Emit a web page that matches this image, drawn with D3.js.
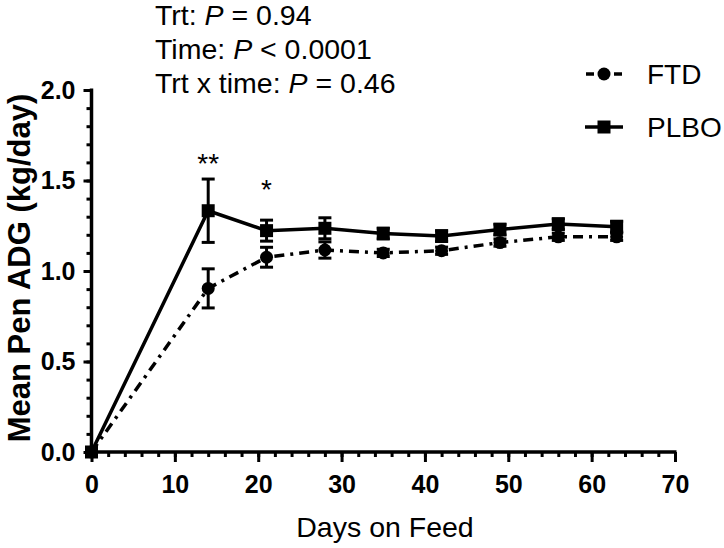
<!DOCTYPE html>
<html>
<head>
<meta charset="utf-8">
<script src="https://cdn.jsdelivr.net/npm/d3@7"></script>
<style>
  html, body { margin: 0; padding: 0; background: #fff; }
  svg { display: block; font-family: "Liberation Sans", Arial, sans-serif; }
</style>
</head>
<body>
<svg id="chart" width="724" height="548"></svg>
<script>
// ---- data ----
const days = [0, 14, 21, 28, 35, 42, 49, 56, 63];
const ftdMean = [0, 0.904, 1.076, 1.116, 1.100, 1.112, 1.157, 1.189, 1.189];
const ftdSE   = [0, 0.108, 0.055, 0.045, 0.02, 0.02, 0.02, 0.02, 0.02];
const plboMean = [0, 1.333, 1.223, 1.236, 1.207, 1.193, 1.229, 1.259, 1.245];
const plboSE   = [0, 0.175, 0.058, 0.058, 0.03, 0.03, 0.03, 0.03, 0.03];
const xTicks = [0, 10, 20, 30, 40, 50, 60, 70];
const yTicks = [0, 0.5, 1.0, 1.5, 2.0];
const stats = [
  ["Trt: ", "P", " = 0.94"],
  ["Time: ", "P", " < 0.0001"],
  ["Trt x time: ", "P", " = 0.46"]
];
const sigMarks = [{day: 14, label: "**", y: 1.54}, {day: 21, label: "*", y: 1.40}];
const seriesNames = ["FTD", "PLBO"];

// ---- scales ----
const svg = d3.select("#chart");
const x = d3.scaleLinear().domain([0, 70]).range([91.5, 675]);
const y = d3.scaleLinear().domain([0, 2]).range([452, 90]);

// ---- axes ----
const xAxis = svg.append("g").attr("transform", `translate(0,${y(0)})`);
xAxis.call(d3.axisBottom(x).tickValues(d3.range(0, 71, 2)).tickSize(5).tickFormat(""));
xAxis.call(g => g.selectAll(".tick line").attr("stroke-width", 3));
const xMajor = svg.append("g").attr("transform", `translate(0,${y(0)})`)
  .call(d3.axisBottom(x).tickValues(xTicks).tickSize(10).tickPadding(13).tickFormat(d3.format("d")));
xMajor.select(".domain").remove();
xMajor.selectAll(".tick line").attr("stroke-width", 3);
xMajor.selectAll(".tick text").attr("font-size", 25).attr("font-weight", "bold")
  .attr("font-family", "'Liberation Sans', Arial, sans-serif").attr("fill", "#000");
xAxis.select(".domain").attr("stroke-width", 3.5).attr("d", `M${x(0)},0H${x(70)+1.5}`);

const yAxis = svg.append("g").attr("transform", `translate(${x(0)},0)`);
yAxis.call(d3.axisLeft(y).tickValues(d3.range(0, 21).map(d => d / 10)).tickSize(5).tickFormat(""));
yAxis.selectAll(".tick line").attr("stroke-width", 3);
yAxis.select(".domain").attr("stroke-width", 3.5).attr("d", `M0,${y(2)-1.5}V${y(0)}`);
const yMajor = svg.append("g").attr("transform", `translate(${x(0)},0)`)
  .call(d3.axisLeft(y).tickValues(yTicks).tickSize(8).tickPadding(8).tickFormat(d3.format(".1f")));
yMajor.select(".domain").remove();
yMajor.selectAll(".tick line").attr("stroke-width", 3);
yMajor.selectAll(".tick text").attr("font-size", 25).attr("font-weight", "bold")
  .attr("font-family", "'Liberation Sans', Arial, sans-serif").attr("fill", "#000");

// ---- axis titles ----
svg.append("text").attr("x", 385).attr("y", 537).attr("text-anchor", "middle")
  .attr("font-size", 28.5).text("Days on Feed");
svg.append("text").attr("transform", "translate(30,268) rotate(-90)").attr("text-anchor", "middle")
  .attr("font-size", 31).attr("font-weight", "bold").text("Mean Pen ADG (kg/day)");

// ---- series ----
const ftd = days.map((d, i) => ({d, m: ftdMean[i], se: ftdSE[i]}));
const plbo = days.map((d, i) => ({d, m: plboMean[i], se: plboSE[i]}));
const line = d3.line().x(p => x(p.d)).y(p => y(p.m));
const dash = "10,6,3,6";

function errorBars(data) {
  const g = svg.append("g").attr("stroke", "#000").attr("stroke-width", 3);
  data.filter(p => p.se > 0).forEach(p => {
    const cx = x(p.d);
    g.append("line").attr("x1", cx).attr("x2", cx).attr("y1", y(p.m - p.se)).attr("y2", y(p.m + p.se));
    [p.m - p.se, p.m + p.se].forEach(v =>
      g.append("line").attr("x1", cx - 6.5).attr("x2", cx + 6.5).attr("y1", y(v)).attr("y2", y(v)));
  });
}

svg.append("path").datum(ftd).attr("d", line).attr("fill", "none").attr("stroke", "#000")
  .attr("stroke-width", 3.5).attr("stroke-dasharray", dash);
svg.append("path").datum(plbo).attr("d", line).attr("fill", "none").attr("stroke", "#000")
  .attr("stroke-width", 3.5);
errorBars(ftd);
errorBars(plbo);
svg.append("g").selectAll("circle").data(ftd).join("circle")
  .attr("cx", p => x(p.d)).attr("cy", p => y(p.m)).attr("r", 6.5).attr("fill", "#000");
svg.append("g").selectAll("rect").data(plbo).join("rect")
  .attr("x", p => x(p.d) - 6.5).attr("y", p => y(p.m) - 6.5).attr("width", 13).attr("height", 13).attr("fill", "#000");

// ---- significance marks ----
svg.append("g").selectAll("text").data(sigMarks).join("text")
  .attr("x", s => x(s.day)).attr("y", s => y(s.y)).attr("text-anchor", "middle")
  .attr("font-size", 28).text(s => s.label);

// ---- stats text ----
const st = svg.append("g");
stats.forEach((s, i) => {
  const t = st.append("text").attr("x", 155).attr("y", 25 + i * 34).attr("font-size", 28.5);
  t.append("tspan").text(s[0]);
  t.append("tspan").attr("font-style", "italic").text(s[1]);
  t.append("tspan").text(s[2]);
});

// ---- legend ----
const lg = svg.append("g");
seriesNames.forEach((name, i) => {
  const ly = 74 + i * 53;
  if (i === 0) {
    lg.append("line").attr("x1", 586).attr("x2", 594).attr("y1", ly).attr("y2", ly).attr("stroke", "#000").attr("stroke-width", 3.5);
    lg.append("line").attr("x1", 614).attr("x2", 622).attr("y1", ly).attr("y2", ly).attr("stroke", "#000").attr("stroke-width", 3.5);
    lg.append("circle").attr("cx", 604).attr("cy", ly).attr("r", 6.5).attr("fill", "#000");
  } else {
    lg.append("line").attr("x1", 585).attr("x2", 623).attr("y1", ly).attr("y2", ly).attr("stroke", "#000").attr("stroke-width", 3.5);
    lg.append("rect").attr("x", 597.5).attr("y", ly - 6.5).attr("width", 13).attr("height", 13).attr("fill", "#000");
  }
  lg.append("text").attr("x", 647).attr("y", ly + 10).attr("font-size", 28).text(name);
});
</script>
</body>
</html>
